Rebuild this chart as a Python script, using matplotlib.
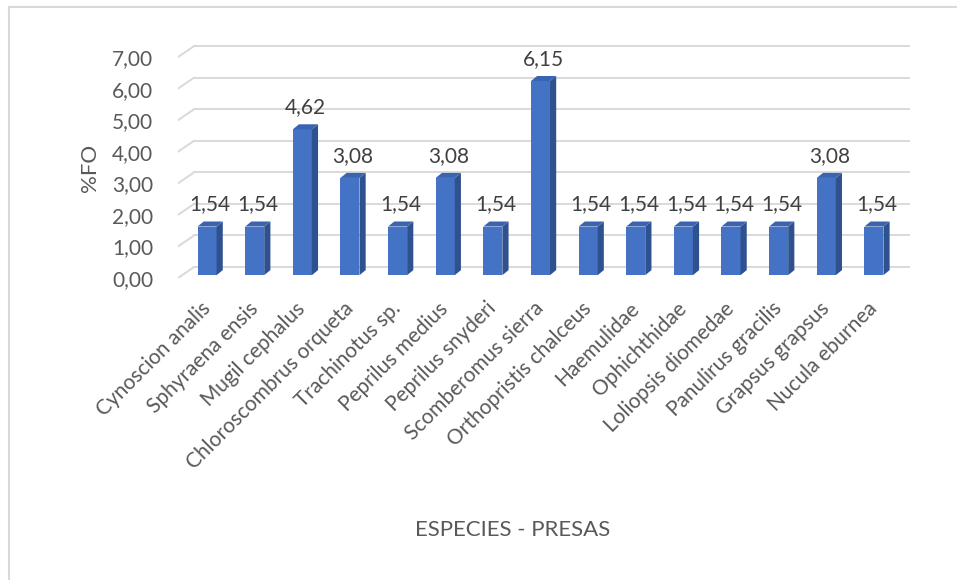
import matplotlib
matplotlib.use("Agg")
import matplotlib.pyplot as plt
from matplotlib.lines import Line2D
from matplotlib.ticker import FuncFormatter
from matplotlib.transforms import ScaledTranslation

plt.rcParams["font.family"] = ["Lato", "DejaVu Sans"]

especies = ["Cynoscion analis", "Sphyraena ensis", "Mugil cephalus",
            "Chloroscombrus orqueta", "Trachinotus sp.", "Peprilus medius",
            "Peprilus snyderi", "Scomberomus sierra", "Orthopristis chalceus",
            "Haemulidae", "Ophichthidae", "Loliopsis diomedae",
            "Panulirus gracilis", "Grapsus grapsus", "Nucula eburnea"]
fo = [1.54, 1.54, 4.62, 3.08, 1.54, 3.08, 1.54, 6.15, 1.54,
      1.54, 1.54, 1.54, 1.54, 3.08, 1.54]
yticks = [0, 1, 2, 3, 4, 5, 6, 7]

front = "#4472C4"
side = "#2F5190"
top = "#3A64B0"
grid = "#D9D9D9"
txt = "#595959"

# 3D look: wall depth and bar depth in data units
wall_dx, wall_dy = 0.34, 0.35
bar_w, bar_dx, bar_dy, bar_y0 = 0.40, 0.13, 0.16, 0.09
x_left, x_right = -0.61, 14.76

fig = plt.figure(figsize=(9.57, 5.80), dpi=100)
ax = fig.add_axes([0.186, 0.5207, 0.765, 0.4027])
ax.set_xlim(x_left, x_right)
ax.set_ylim(0, 7.4)

for k in yticks:
    ax.plot([x_left, x_left + wall_dx], [k, k + wall_dy], color=grid, lw=1.4, zorder=1)
    ax.plot([x_left + wall_dx, x_right], [k + wall_dy, k + wall_dy], color=grid, lw=1.4, zorder=1)

for i, v in enumerate(fo):
    x0 = i - bar_w / 2
    x1 = i + bar_w / 2
    y1 = bar_y0 + v
    ax.bar(i, v, bar_w, bottom=bar_y0, color=front, zorder=3)
    ax.fill([x1, x1 + bar_dx, x1 + bar_dx, x1],
            [bar_y0, bar_y0 + bar_dy, y1 + bar_dy, y1], color=side, lw=0, zorder=3)
    ax.fill([x0, x1, x1 + bar_dx, x0 + bar_dx],
            [y1, y1, y1 + bar_dy, y1 + bar_dy], color=top, lw=0, zorder=3)
    ax.annotate(f"{v:.2f}".replace(".", ","), (i + bar_dx / 2, y1 + bar_dy),
                xytext=(0, 5), textcoords="offset points", ha="center", va="bottom",
                fontsize=15, color="#404040")

ax.set_yticks(yticks)
ax.yaxis.set_major_formatter(FuncFormatter(lambda v, p: f"{v:.2f}".replace(".", ",")))
ax.set_xticks(range(len(especies)))
ax.set_xticklabels(especies, rotation=45, ha="right", va="top", rotation_mode="anchor")
ax.tick_params(axis="y", length=0, pad=18, labelsize=15, labelcolor=txt)
ax.tick_params(axis="x", length=0, pad=6, labelsize=15, labelcolor=txt)
shift = ScaledTranslation(-0.07, -0.12, fig.dpi_scale_trans)
for lab in ax.get_xticklabels():
    lab.set_transform(lab.get_transform() + shift)
for s in ax.spines.values():
    s.set_visible(False)

fig.text(0.094, 0.71, "%FO", rotation=90, ha="center", va="center", fontsize=16, color=txt)
fig.text(0.536, 0.086, "ESPECIES - PRESAS", ha="center", va="center", fontsize=16, color=txt)

# chart area frame (cropped at right and bottom)
fig.add_artist(Line2D([0.0094, 1.0], [0.988, 0.988], transform=fig.transFigure, color=grid, lw=1.5))
fig.add_artist(Line2D([0.0094, 0.0094], [0.0, 0.988], transform=fig.transFigure, color=grid, lw=1.5))

fig.savefig("out.png", dpi=100)
